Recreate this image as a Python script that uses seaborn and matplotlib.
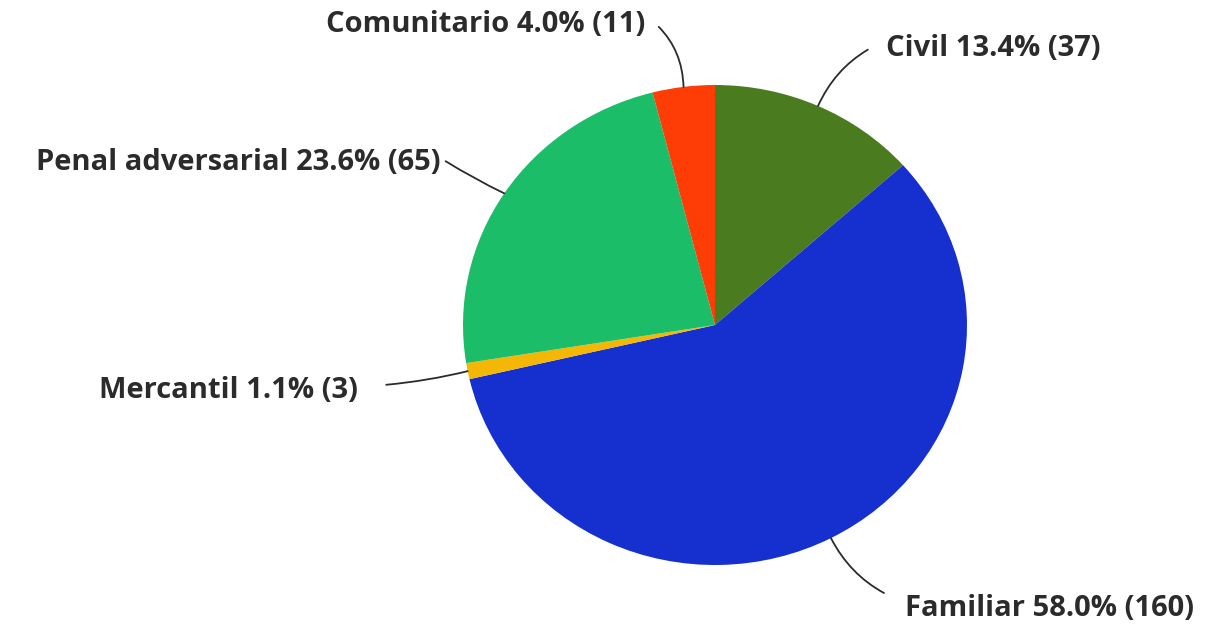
import numpy as np
import matplotlib
matplotlib.use("Agg")
import matplotlib.pyplot as plt
import seaborn as sns

# Data
categories = ["Civil", "Familiar", "Mercantil", "Penal adversarial", "Comunitario"]
counts = [37, 160, 3, 65, 11]
colors = ["#4b7b1f", "#1530cf", "#f5b705", "#1bbd68", "#fe3c05"]

# label text anchor (pixels from top-left), alignment, line start, gap, curvature
label_pos = {
    "Civil": (886, 48, "left", (0, 0.75), 12, 0.2),
    "Familiar": (905, 608, "left", (0, 0.7), 14, -0.2),
    "Mercantil": (358, 391, "right", (1, 0.65), 18, 0.05),
    "Penal adversarial": (440, 162, "right", (1, 0.65), 2, 0.03),
    "Comunitario": (645, 24, "right", (1, 0.8), 10, -0.25),
}

sns.set_theme(style="white")
plt.rcParams["font.family"] = ["Open Sans", "DejaVu Sans"]

W, H = 1216, 626
fig = plt.figure(figsize=(W / 100, H / 100), dpi=100)
ax = fig.add_axes([0, 0, 1, 1])

cx, cy, r = 715, H - 325, 240
sx = 1.05  # slight horizontal stretch seen in the reference
wedges, _ = ax.pie(counts, colors=colors, startangle=90, counterclock=False,
                   center=(cx, cy), radius=r, frame=True,
                   wedgeprops=dict(linewidth=0))
ax.set_aspect("auto")
ax.set_xlim(cx - cx / sx, cx + (W - cx) / sx)
ax.set_ylim(0, H)
ax.axis("off")

total = sum(counts)
for w, cat, n in zip(wedges, categories, counts):
    mid = np.deg2rad((w.theta1 + w.theta2) / 2)
    edge = (cx + r * np.cos(mid), cy + r * np.sin(mid))
    tx, ty, ha, relpos, gap, rad = label_pos[cat]
    txt = f"{cat} {n / total * 100:.1f}% ({n})"
    ax.annotate(txt, xy=edge, xytext=(tx, H - ty), textcoords="figure pixels",
                ha=ha, va="center", fontsize=21, fontweight="bold",
                color="#2b2b2b",
                arrowprops=dict(arrowstyle="-", color="#2b2b2b", lw=1.3,
                                relpos=relpos, shrinkA=gap, shrinkB=0,
                                connectionstyle=f"arc3,rad={rad}"))

fig.savefig("out.png", dpi=100, facecolor="white")
